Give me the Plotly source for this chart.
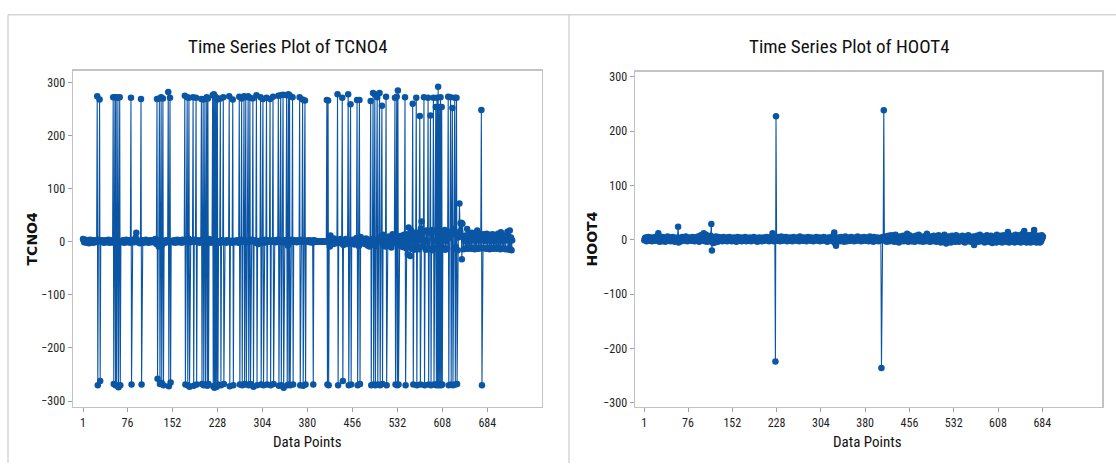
import plotly.graph_objects as go

# ---------------- data ----------------
x_ticks = [1, 76, 152, 228, 304, 380, 456, 532, 608, 684]
y_ticks = [-300, -200, -100, 0, 100, 200, 300]

# TCNO4 background readings (index 1..726)
tcno4_base = [
    5, 3, -1, 2, 4, 1, -2, 3, 0, 2, -3, 1, 4, 2, -1, 0, 3, -2, 1, 2,
    -1, 3, 0, 2, 1, -2, 4, 1, 0, -3, 2, 1, 3, -1, 0, 2, -2, 1, 3, 0,
    1, -1, 2, 4, 0, -2, 1, 3, 2, -1, 0, 1, 3, -2, 2, 0, 1, -1, 4, 2,
    0, 1, -2, 3, 1, 0, 2, -1, 3, 1, -2, 0, 2, 4, 1, -1, 0, 2, 1, 3,
    -2, 1, 0, 2, 3, 1, -1, 4, 2, 8, 17, 3, -1, 1, 0, 2, -3, 1, 2, 0,
    1, 3, -2, 0, 2, 1, 4, -1, 0, 2, 1, -2, 3, 0, 1, 2, -1, 3, 1, 0,
    2, -1, 5, 1, -4, 8, -6, 3, -9, 2, -8, 4, -10, 1, -5, 6, 2, 0, -2, 1,
    3, 1, -1, 2, 0, 4, 1, -2, 3, 1, 0, 2, -1, 1, 3, 0, -2, 2, 1, 4,
    0, 1, -1, 3, 2, 0, 1, -2, 4, 1, 2, 0, -1, 3, 1, 2, -2, 0, 6, 1,
    2, -1, 3, 0, 1, 2, -3, 1, 4, 0, 2, 1, -1, 3, 0, 2, 1, -2, 1, 3,
    0, 2, -1, 1, 4, 2, 0, -2, 3, 1, 2, -1, 0, 5, 1, 3, -2, 2, 0, 1,
    6, -3, 2, 1, 0, 4, -1, 2, 3, 0, 1, -2, 2, 1, 3, 0, -1, 2, 1, 0,
    2, 1, -2, 3, 0, 1, 2, -1, 4, 1, 0, 2, -2, 1, 3, 0, 2, 1, -1, 2,
    0, 3, 1, -2, 2, 1, 0, 4, -1, 1, 2, 0, -3, 2, 1, 3, 0, -1, 2, 1,
    3, 0, -2, 1, 2, 4, 1, 0, -1, 2, 1, 3, -2, 0, 2, 1, -4, 1, 0, 2,
    1, -1, 3, 2, 0, 1, -2, 2, 4, 0, 1, -3, 2, 1, 0, 3, -1, 1, 2, 0,
    2, 1, -2, 0, 3, 1, -1, 2, 0, 4, 1, -2, 1, 3, 0, 2, -1, 1, -6, 2,
    0, 3, 1, -2, 2, 1, -7, 0, 3, 1, -1, 2, 4, 0, 1, -2, 2, 1, 3, 0,
    1, -1, 2, 0, 3, 1, -5, 2, 1, 4, 0, -2, 2, 1, 3, 0, -1, 2, 1, 2,
    0, 1, 3, -1, 2, 0, 1, 2, -2, 1, 3, 0, 1, 2, 1,
    1, 1, 0, 1, 1, 0, 1, 1, 1, 0, 1, 1, 0, 1, 1, 1, 0, 1, 1, 0, 1,
    8, -9, 12, 3, -2, 5, 1, -4, 6, 2, 0, -3, 4, 1, -2, 7, 3, -1, 2, 5,
    -3, 1, 4, 0, -6, 3, 2, -1, 5, 1, -4, 2, 0, 6, -2, 3, 1, 11, 2, -3,
    4, 0, 1, -5, 3, 2, 7, -2, 1, 4, -8, 2, 0, 9, -3, 1, 5, 2, -1, 3,
    -4, 2, 6, 0, 1, -7, 3, 4, -9, 2, 10, 1, -3, 5, 0, 12, -6, 2, 4, -8,
    3, 11, -2, 1, 6, -10, 2, 9, 0, -5, 4, 13, -7, 1, 3, -9, 12, 2, -4, 6,
    0, 10, -8, 3, 5, -11, 2, 14, -3, 1, 8, -9, 4, 12, 0, -6, 3, 10, -7, 2,
    11, -4, 1, 9, -10, 3, 13, -6, 2,
    5, -12, 14, 3, -24, 27, -9, 12, -27, 22, 4, -13, 10, 2, -15, 17, -4, 11, 19, -11,
    17, 3, -14, 12, 6, -12, 25, 38, -9, 15, 2, -13, 18, 4, -15, 21, 1, -12, 17, 6,
    -14, 20, 3, -13, 16, 22, -16, 5, 19, -12, 2, 18, -15, 8, 21, -13, 4, 17, -11, 6,
    20, -14, 3, 16, -12, 9, 22, -15, 2, 18, -13, 5, 15, -12, 8, 19, -28, 4, 14, -27,
    6, 24, -13, 3, 30, -10, 15, 22, -16, 8,
    12, 72, 20, 35, 36, -33, 34, 10, -14, 8, 3, 12, -12, 0, 24, -13, 10, 14, -12, 2,
    11, -13, 17, 5, -12, 13, 10, -14, 4, 12, -12, 21, 9, -13, 15, 3, -12, 11, 26, -13,
    8, 14, -12, 2, 12, 10, -13, 15, 4, -12, 11, 8, -14, 13, 2, -12, 10, 14, -13, 7,
    11, -12, 3, 12, -13, 9, 15, -11, 4, 12, -14, 18, 6, -13, 10, 2, -12, 11, 8, -14,
    12, 3, 19, -13, 10, -15, 21, -14, 8, -16, 3,
]

# TCNO4 wrap-around jumps: reading at index i (top) followed by reading at i+1 (bottom)
tcno4_jump_idx = [25, 29, 52, 55, 57, 60, 63, 82, 99, 126, 130, 133, 136, 145, 148,
                  173, 177, 180, 187, 192, 201, 204, 207, 210, 212, 220, 222, 224, 226, 228,
                  233, 238, 248, 254, 265, 269, 273, 276, 280, 283, 288, 294, 301, 305, 311,
                  317, 322, 331, 335, 339, 345, 348, 350, 355, 367, 372, 376, 389, 413, 415,
                  431, 439, 449, 453, 464, 468, 487, 491, 494, 498, 502, 506, 513, 528, 531,
                  533, 545, 558, 564, 570, 577, 584, 588, 593, 597, 599, 601, 603, 605, 607,
                  618, 622, 625, 629, 632, 674]
tcno4_jump_top = [274, 268, 272, 272, 272, 271, 272, 271, 269, 269, 270, 272, 270, 282, 271,
                  275, 272, 271, 272, 271, 269, 268, 269, 272, 270, 276, 278, 274, 271, 268,
                  270, 272, 274, 268, 273, 270, 274, 272, 274, 271, 270, 276, 272, 269, 271,
                  269, 273, 275, 276, 277, 276, 278, 276, 272, 272, 268, 266, None, 267, 266,
                  278, 271, 278, 259, 267, 267, 265, 280, 278, 272, 280, 256, 273, 271, 273,
                  285, 272, 260, 271, 237, 272, 271, 238, 271, 254, 271, 292, 254, 272, 254,
                  273, 272, 252, 271, 271, 248]
tcno4_jump_bot = [-270, -262, -268, -270, -270, -274, -270, -269, -269, -258, -268, -266, -270, -272, -265,
                  -269, -270, -273, -271, -269, -268, -270, -269, -271, -268, -272, -275, -270, -273, -269,
                  -270, -268, -272, -270, -269, -270, -268, -269, -270, -268, -273, -270, -269, -270, -269,
                  -270, -268, -271, -270, -275, -270, -269, -270, -269, -270, -271, -269, -269, -269, -270,
                  -270, -262, -270, -269, -270, -268, -270, -269, -270, -269, -270, -268, -270, -269, -270,
                  -269, -270, -269, -270, -269, -270, -269, -270, -269, -270, -268, -270, -269, -270, -269,
                  -270, -269, -270, -269, -268, -270]

# HOOT4 readings (index 1..685)
hoot4 = [
    -1, 2, 4, 0, -3, 1, 3, 5, -2, 0, 2, 4, 1, -3, 3, 0, 2, -1, 5, 1,
    -2, 3, 1, 6, 12, 4, -4, 2, 0, 3, -3, 5, 1, -1, 2, 4, -4, 0, 3, 1,
    6, -2, 2, 0, 4, -3, 1, 3, -1, 5, 2, 0, -4, 3, 1, 2, -2, 4, 24, -5,
    3, 0, 2, -3, 1, 5, 2, -1, 3, 0, -2, 6, 1, 3, -3, 2, 0, 4, -1, 2,
    3, -2, 1, 5, 0, 2, -3, 4, 1, 3, -1, 0, 6, 2, -4, 3, 1, 8, 0, 3,
    -2, 5, 12, 3, -3, 1, 9, 2, -4, 4, 0, 6, -3, 2, 7, 29, -20, 3, -6, 4,
    1, -5, 3, 6, 0, 2, -4, 5, 1, 3, -2, 0, 4, 2, -3, 1, 5, 0, 2, -2,
    3, 1, -3, 4, 0, 2, 5, -1, 1, 3, -3, 0, 2, 4, -2, 1, 3, 0, -4, 2,
    5, 1, -2, 3, 0, 2, 4, -3, 1, 0, 3, -1, 2, 5, 0, -3, 1, 3, 2, -2,
    0, 4, 1, -3, 2, 3, 0, -1, 5, 2, -2, 1, 3, 0, -4, 2, 1, 4, -1, 3,
    0, 2, -3, 1, 4, 2, -2, 0, 3, 1, 5, -1, 2, 0, -3, 4, 1, 2, -2, 3,
    12, 4, -3, 2, 0, -224, 227, 3, -2, 5, 1, 0, 4, -3, 2, 6, 0, -2, 3, 1,
    4, -1, 2, 5, 0, -3, 3, 1, 2, -2, 4, 0, 1, 3, -3, 2, 5, 0, -1, 2,
    3, 0, -2, 4, 1, 2, -3, 6, 0, 2, -1, 3, 1, -2, 4, 0, 2, 3, -3, 1,
    2, 5, -1, 0, 3, 1, -2, 4, 2, 0, -3, 1, 3, 2, -1, 5, 0, 2, -2, 3,
    1, 4, -3, 0, 2, 3, -1, 1, 5, 0, -2, 3, 1, 2, -4, 0, 4, 2, -1, 3,
    0, 2, 5, -3, 1, 8, 13, -6, 4, -11, 2, 3, -2, 0, 4, 1, -3, 2, 5, 0,
    -1, 3, 2, -4, 1, 6, 0, 2, -3, 4, 1, 0, 3, -2, 2, 5, -1, 1, 3, 0,
    -3, 2, 4, 1, -2, 0, 6, 3, -1, 2, 0, 4, -3, 1, 3, 2, -2, 5, 0, 1,
    3, -2, 2, 4, 0, -3, 1, 6, 2, -1, 3, 0, 2, -4, 5, 1, 0, 3, -2, 2,
    4, 0, -3, 1, 3, 2, -1, -236, 2, 5, 0, 238, 3, -2, 6, 1, -4, 3, 2, 7,
    0, -3, 4, 1, 8, -2, 3, 0, 5, -4, 2, 9, 1, -3, 4, 2, 0, -5, 6, 3,
    -2, 1, 4, 0, 7, -3, 2, 5, -1, 3, 0, 11, 4, -4, 2, 8, -2, 1, 5, -3,
    3, 0, 6, 2, -4, 1, 7, 3, -2, 0, 4, 9, -3, 2, 1, 5, -1, 3, -4, 6,
    0, 2, 4, -3, 8, 11, -2, 3, 0, 5, -4, 2, 6, 1, -3, 4, 0, 7, -2, 3,
    1, -4, 5, 2, 0, 8, -3, 3, 1, -5, 4, 6, 0, -2, 3, 9, -4, 1, -7, 5,
    2, 0, 6, -3, 3, 1, -5, 4, 7, 0, -2, 3, 5, -4, 1, 8, -3, 2, 0, 6,
    -4, 3, 1, 5, -2, 0, 7, -3, 2, 4, -5, 1, 6, 0, -3, 3, 8, -2, 1, 4,
    -4, 2, 5, 0, -3, 6, -10, 3, 1, 4, -2, 7, 0, -4, 3, 2, 9, -3, 1, 5,
    -2, 0, 6, 3, -5, 1, 4, -3, 8, 2, 0, -4, 5, 3, -2, 7, 1, -6, 4, 0,
    3, -3, 6, 2, -5, 9, 1, 0, -4, 5, 3, -2, 7, 0, -5, 4, 2, 8, -3, 1,
    6, -4, 3, 0, 14, 2, -5, 5, 1, -3, 7, 3, 0, -4, 6, 2, -5, 9, 1, -3,
    4, 8, -4, 2, 0, 6, -5, 3, 10, 1, -4, 5, 16, -3, 2, 7, -5, 4, 0, 8,
    -4, 3, 6, -5, 2, 9, 0, -4, 5, 18, -3, 8, 2, -5, 6, 1, -4, 7, 3, -5,
    5, -3, 8, 2, 6,
]

titles = ["Time Series Plot of TCNO4", "Time Series Plot of HOOT4"]
y_labels = ["TCNO4", "HOOT4"]
x_label = "Data Points"

# ---------------- build series ----------------
tcno4 = list(tcno4_base)
for i, top, bot in zip(tcno4_jump_idx, tcno4_jump_top, tcno4_jump_bot):
    if top is not None:
        tcno4[i - 1] = top
    tcno4[i] = bot

BLUE = "#0b55a5"
W, H = 1116, 466
NARROW = "Liberation Sans Narrow, Arial Narrow, Roboto Condensed, Roboto, sans-serif"


def px(x):
    return x / W


def py(y):
    return 1 - y / H


fig = go.Figure()
fig.add_trace(go.Scatter(
    x=list(range(1, len(tcno4) + 1)), y=tcno4, mode="lines+markers",
    line=dict(color=BLUE, width=1.1), marker=dict(size=6.5, color=BLUE),
    xaxis="x", yaxis="y", hoverinfo="skip"))
fig.add_trace(go.Scatter(
    x=list(range(1, len(hoot4) + 1)), y=hoot4, mode="lines+markers",
    line=dict(color=BLUE, width=1.1), marker=dict(size=6.5, color=BLUE),
    xaxis="x2", yaxis="y2", hoverinfo="skip"))

axis_common = dict(
    showline=True, mirror=True, linecolor="#c3c3c3", linewidth=1.5,
    showgrid=False, zeroline=False, ticks="outside", ticklen=4,
    tickcolor="#a0a0a0", tickwidth=1,
    tickfont=dict(family=NARROW, size=12, color="#1e1e1e"),
)

fig.update_layout(
    width=W, height=H, margin=dict(l=0, r=0, t=0, b=0, pad=0),
    paper_bgcolor="white", plot_bgcolor="white", showlegend=False,
    xaxis=dict(domain=[px(73), px(541.5)], range=[-15.9, 775.6], tickvals=x_ticks,
               anchor="y", **axis_common),
    yaxis=dict(domain=[py(409.3), py(69.3)], range=[-311, 322.4], tickvals=y_ticks,
               anchor="x", **axis_common),
    xaxis2=dict(domain=[px(635), px(1102)], range=[-15, 786.5], tickvals=x_ticks,
                anchor="y2", **axis_common),
    yaxis2=dict(domain=[py(409.3), py(70.7)], range=[-307.8, 308.7], tickvals=y_ticks,
                anchor="x2", **axis_common),
)

annotations = []
for cx, t in zip([288, 849], titles):
    annotations.append(dict(x=px(cx), y=py(45), xref="paper", yref="paper", text=t,
                            showarrow=False, xanchor="center", yanchor="middle",
                            font=dict(family=NARROW, size=19, color="#111111")))
for cx in [307.5, 867.5]:
    annotations.append(dict(x=px(cx), y=py(445), xref="paper", yref="paper", text=x_label,
                            showarrow=False, xanchor="center", yanchor="middle",
                            font=dict(family=NARROW, size=15, color="#111111")))
for cx, t in zip([32, 592], y_labels):
    annotations.append(dict(x=px(cx), y=py(240), xref="paper", yref="paper", text="<b>" + t + "</b>",
                            showarrow=False, xanchor="center", yanchor="middle", textangle=-90,
                            font=dict(family="DejaVu Sans, Verdana, sans-serif", size=14,
                                      color="#111111")))
fig.update_layout(annotations=annotations)

border = dict(color="#d6d6d6", width=1.5)
fig.update_layout(shapes=[
    dict(type="line", xref="paper", yref="paper", x0=px(8), x1=1, y0=py(13), y1=py(13), line=border),
    dict(type="line", xref="paper", yref="paper", x0=px(8), x1=px(8), y0=0, y1=py(13), line=border),
    dict(type="line", xref="paper", yref="paper", x0=px(569), x1=px(569), y0=0, y1=py(13), line=border),
])

fig.write_html(
    "out.html",
    config={"displayModeBar": False, "staticPlot": True},
    post_script="document.body.style.margin='0';document.body.style.overflow='hidden';",
)
